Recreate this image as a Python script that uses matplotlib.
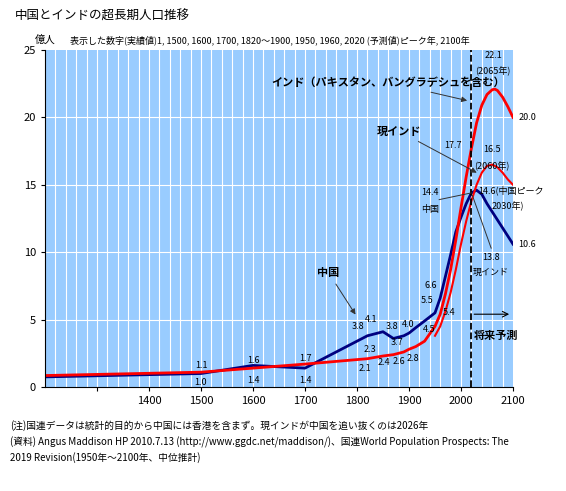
import matplotlib.pyplot as plt
import numpy as np

plt.rcParams['font.family'] = ['Noto Sans CJK JP', 'DejaVu Sans']

china_year = [1200, 1500, 1600, 1700, 1820, 1850, 1870, 1890, 1900, 1913, 1930, 1950, 1960, 1970, 1980,
              1990, 2000, 2010, 2020, 2030, 2040, 2050, 2060, 2070, 2080, 2090, 2100]
china_pop = [0.75, 1.0, 1.6, 1.4, 3.8, 4.1, 3.6, 3.8, 4.0, 4.4, 4.9, 5.5, 6.6, 8.2, 9.8,
             11.5, 12.6, 13.6, 14.4, 14.6, 14.3, 13.6, 13.0, 12.4, 11.8, 11.2, 10.6]
india_year = [1200, 1500, 1600, 1700, 1820, 1850, 1870, 1890, 1900, 1913, 1930, 1950, 1960, 1970, 1980,
              1990, 2000, 2010, 2020, 2030, 2040, 2050, 2060, 2065, 2070, 2080, 2090, 2100]
india_pop = [0.85, 1.1, 1.4, 1.7, 2.1, 2.3, 2.4, 2.6, 2.8, 3.0, 3.4, 4.5, 5.4, 6.9, 8.7,
             10.9, 13.3, 15.6, 17.7, 19.6, 20.9, 21.7, 22.05, 22.1, 22.0, 21.5, 20.8, 20.0]
cur_year = [1950, 1960, 1970, 1980, 1990, 2000, 2010, 2020, 2030, 2040, 2050, 2060, 2070, 2080, 2090, 2100]
cur_pop = [3.8, 4.5, 5.6, 7.0, 8.7, 10.6, 12.3, 13.8, 15.0, 15.9, 16.4, 16.5, 16.3, 15.9, 15.4, 15.0]

fig = plt.figure(figsize=(5.66, 4.91), dpi=100)
ax = fig.add_axes([45/566, 1-387/491, 468/566, 337/491])
ax.set_facecolor('#99ccff')
for x in np.arange(1220, 2100, 20):
    ax.axvline(x, color='white', lw=0.8, zorder=0)
for y in [5, 10, 15, 20]:
    ax.axhline(y, color='white', lw=0.8, zorder=0)

ax.plot(china_year, china_pop, color='#000080', lw=2)
ax.plot(india_year, india_pop, color='red', lw=2)
ax.plot(cur_year, cur_pop, color='red', lw=1.5)
ax.axvline(2020, color='black', ls='--', lw=1.3)

ax.set_xlim(1200, 2100)
ax.set_ylim(0, 25)
ax.set_xticks(range(1300, 2101, 100))
ax.set_xticklabels([''] + [str(y) for y in range(1400, 2101, 100)])
ax.set_yticks(range(0, 26, 5))
ax.tick_params(labelsize=8, length=3)
for s in ['top', 'right']:
    ax.spines[s].set_visible(False)

fs = 6.5
labels = [(1500, 1.6, '1.1'), (1500, 0.35, '1.0'), (1600, 2.0, '1.6'), (1600, 0.45, '1.4'),
          (1700, 2.1, '1.7'), (1700, 0.45, '1.4'), (1802, 4.5, '3.8'), (1827, 5.0, '4.1'),
          (1868, 4.5, '3.8'), (1899, 4.6, '4.0'), (1934, 6.4, '5.5'), (1942, 7.5, '6.6'),
          (1825, 2.8, '2.3'), (1816, 1.4, '2.1'), (1852, 1.8, '2.4'), (1880, 1.9, '2.6'),
          (1908, 2.1, '2.8'), (1876, 3.3, '3.7'), (1938, 4.3, '4.5'), (1977, 5.5, '5.4'),
          (1985, 17.9, '17.7'), (1940, 14.4, '14.4'), (1940, 13.2, '中国'),
          (2062, 24.6, '22.1'), (2062, 23.4, '(2065年)'), (2060, 17.6, '16.5'), (2060, 16.4, '(2060年)'),
          (2110, 20.0, '20.0'), (2110, 10.6, '10.6'), (2033, 14.6, '14.6(中国ピーク'),
          (2090, 13.4, '2030年)'), (2058, 9.6, '13.8'), (2058, 8.5, '現インド')]
for x, y, t in labels:
    ha = 'left' if x > 2100 or x == 2033 else 'center'
    ax.text(x, y, t, fontsize=fs, ha=ha, va='center', clip_on=False)

ax.annotate('インド（パキスタン、バングラデシュを含む）', xy=(2017, 21.2), xytext=(1860, 22.6),
            fontsize=8, fontweight='bold', ha='center', va='center',
            arrowprops=dict(arrowstyle='-|>', color='#333333', lw=0.7))
ax.annotate('現インド', xy=(2035, 15.8), xytext=(1880, 19.0),
            fontsize=8, fontweight='bold', ha='center', va='center',
            arrowprops=dict(arrowstyle='-|>', color='#333333', lw=0.7))
ax.annotate('中国', xy=(1800, 5.2), xytext=(1745, 8.5),
            fontsize=8, fontweight='bold', ha='center', va='center',
            arrowprops=dict(arrowstyle='-|>', color='#333333', lw=0.7))
ax.plot([1958, 2020], [13.9, 14.4], color='#333333', lw=0.7)
ax.plot([2022, 2058], [14.2, 10.3], color='#333333', lw=0.7)
ax.annotate('', xy=(2098, 5.4), xytext=(2020, 5.4),
            arrowprops=dict(arrowstyle='->', color='black', lw=0.8))
ax.text(2025, 3.8, '将来予測', fontsize=8, fontweight='bold', va='center')

fig.text(15/566, 1-16/491, '中国とインドの超長期人口推移', fontsize=9, va='center')
fig.text(35/566, 1-40/491, '億人', fontsize=7.5, va='center')
fig.text(70/566, 1-40/491, '表示した数字(実績値)1, 1500, 1600, 1700, 1820～1900, 1950, 1960, 2020 (予測値)ピーク年, 2100年',
         fontsize=6.5, va='center')
fig.text(10/566, 1-426/491, '(注)国連データは統計的目的から中国には香港を含まず。現インドが中国を追い抜くのは2026年',
         fontsize=7, va='center')
fig.text(10/566, 1-442/491, '(資料) Angus Maddison HP 2010.7.13 (http://www.ggdc.net/maddison/)、国連World Population Prospects: The',
         fontsize=7, va='center')
fig.text(10/566, 1-458/491, '2019 Revision(1950年～2100年、中位推計)', fontsize=7, va='center')

fig.savefig('out.png', dpi=100)
